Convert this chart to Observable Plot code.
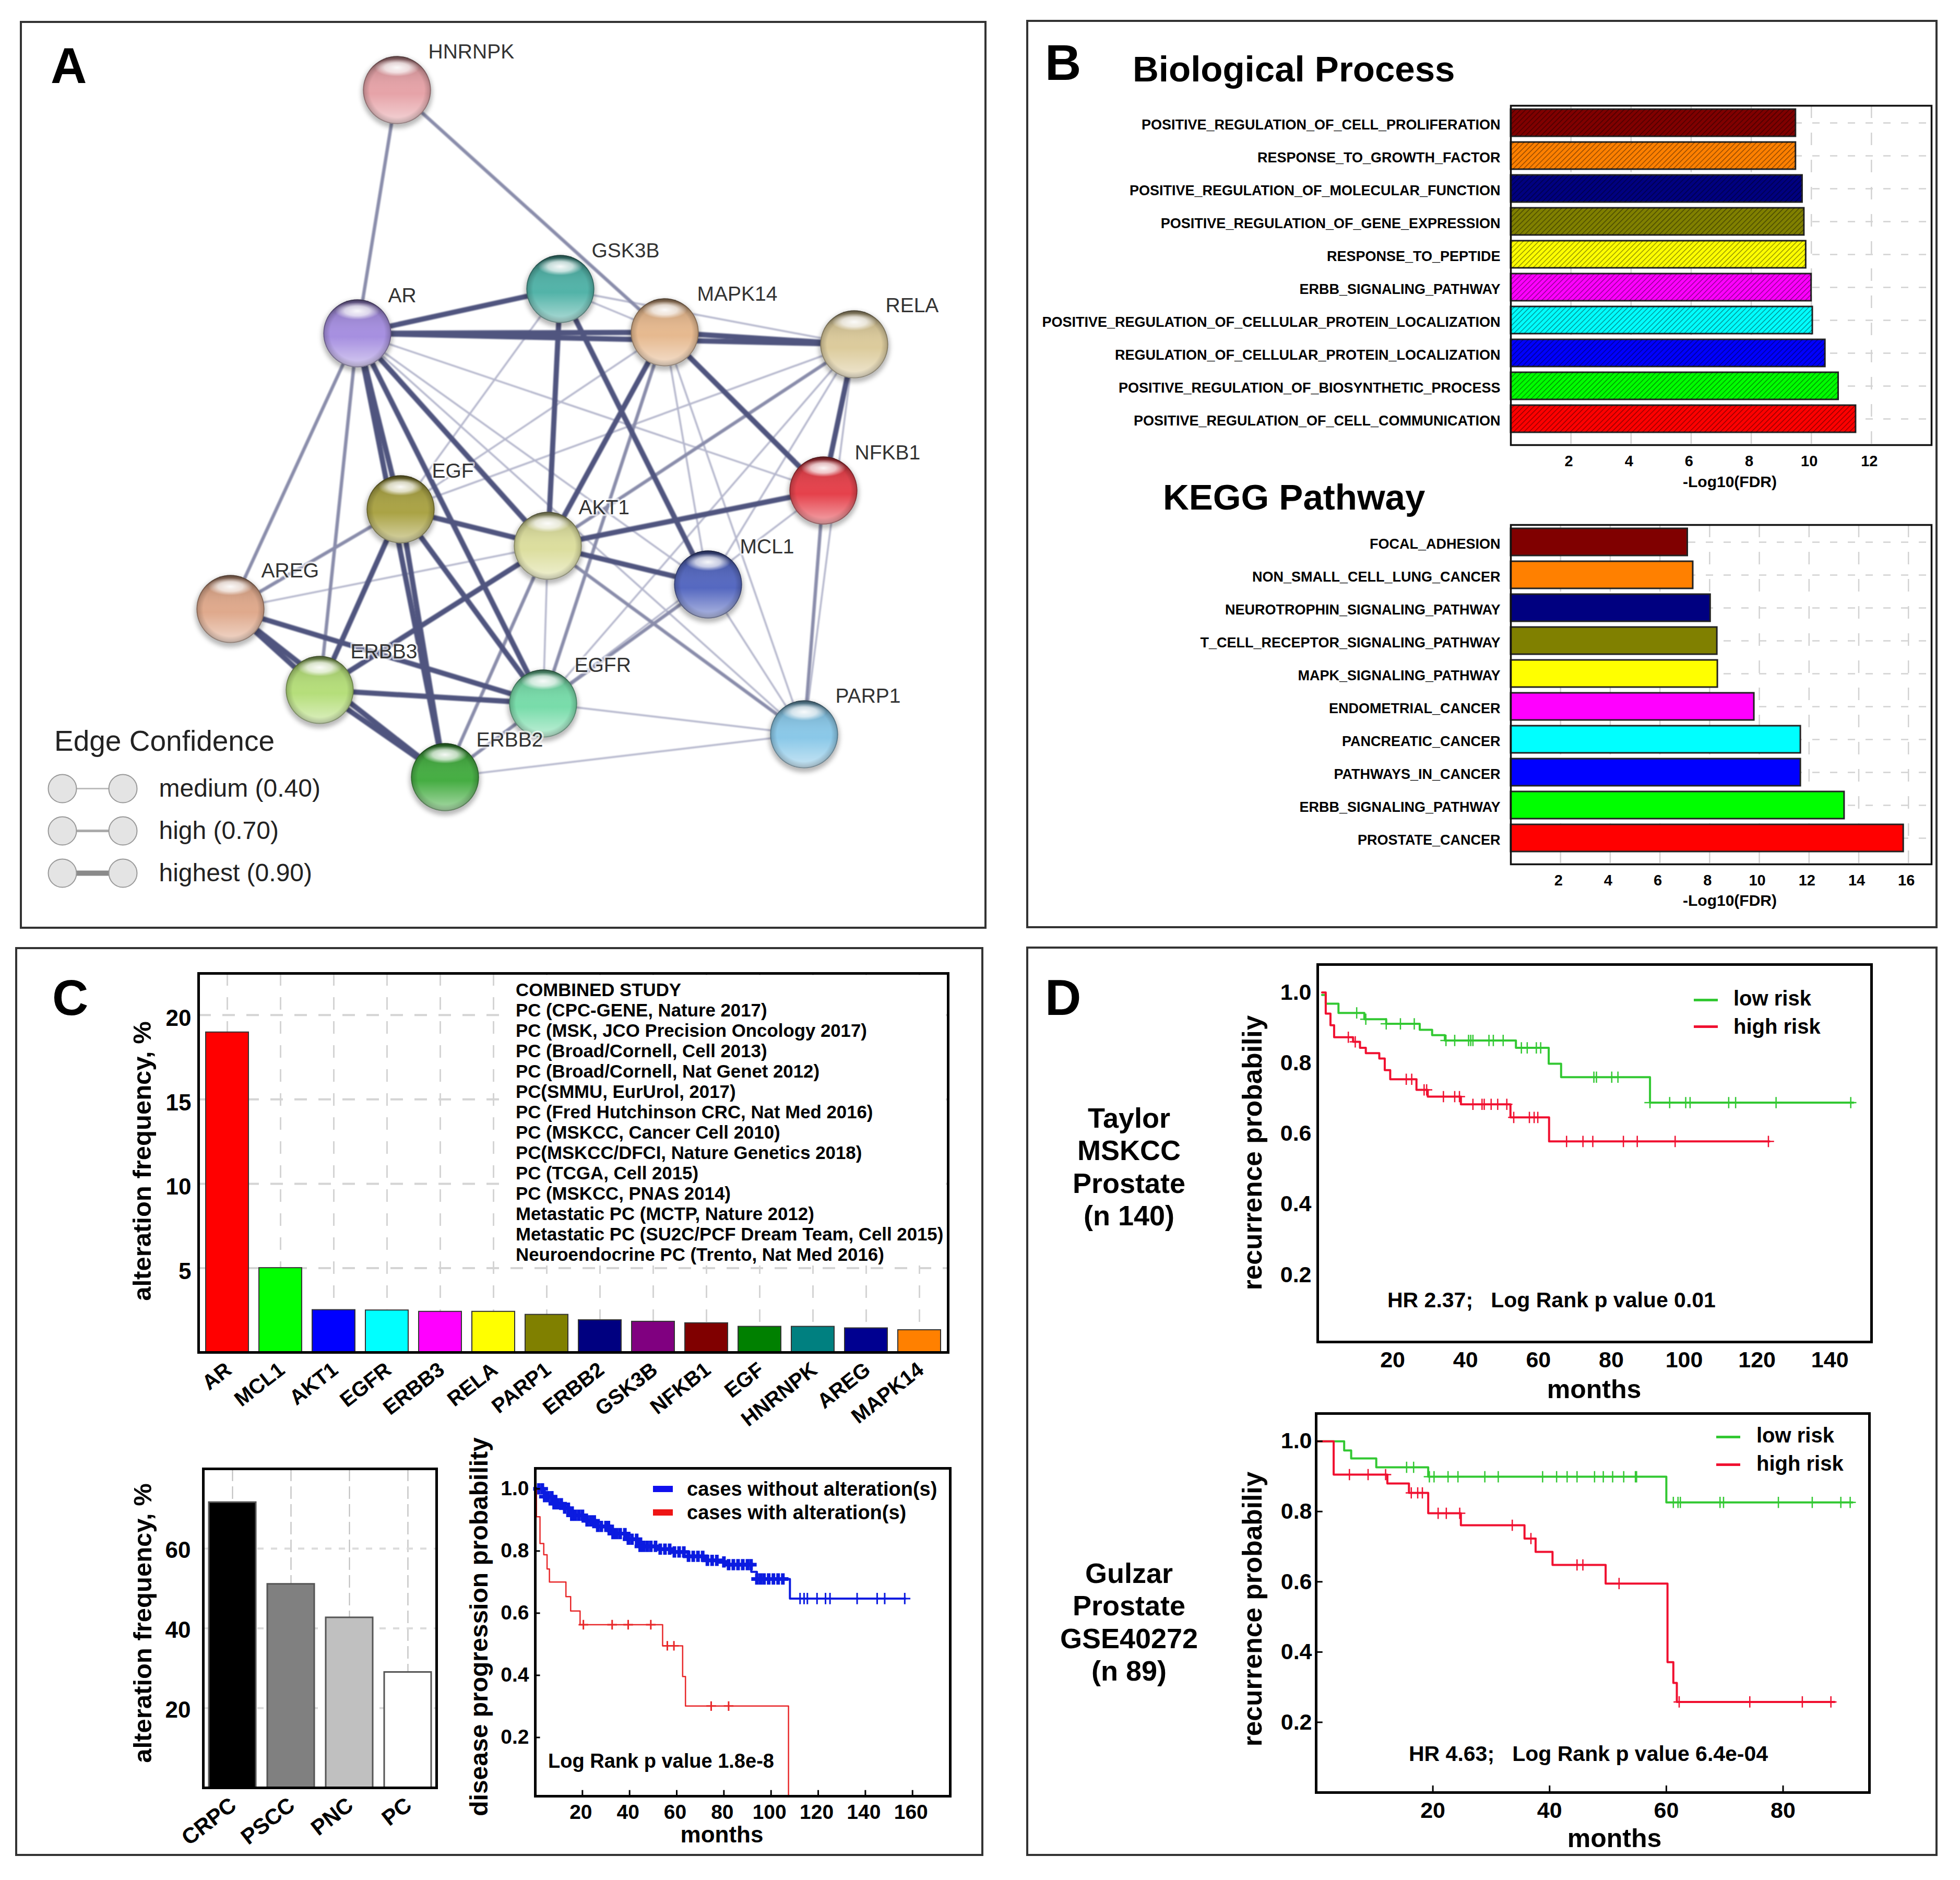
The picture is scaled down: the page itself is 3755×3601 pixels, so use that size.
<!DOCTYPE html>
<html>
<head>
<meta charset="utf-8">
<script src="https://cdn.jsdelivr.net/npm/d3@7"></script>
<script src="https://cdn.jsdelivr.net/npm/@observablehq/plot@0.6"></script>
<style>
  html, body { margin: 0; background: #fff; }
  #root { position: relative; width: 3755px; height: 3601px; overflow: hidden; background: #fff; font-family: "Liberation Sans", Arial, sans-serif; }
  .panel { position: absolute; box-sizing: border-box; border: 4px solid #333; }
  .lab { position: absolute; white-space: pre; color: #000; line-height: 1; z-index: 5; }
  .swatch { position: absolute; z-index: 5; }
  .mask { position: absolute; background: #fff; z-index: 4; }
</style>
</head>
<body>
<div id="root"></div>
<script>
// ---------- Panel A: network ----------
const nodeNames = ["HNRNPK","AR","GSK3B","MAPK14","RELA","NFKB1","EGF","AKT1","MCL1","AREG","ERBB3","EGFR","ERBB2","PARP1"];
const nodeX = [760,684,1073,1273,1636,1577,767,1049,1356,441,612,1040,852,1540];
const nodeY = [172,638,553,636,659,939,975,1045,1119,1166,1321,1347,1488,1406];
const nodeColors = ["#e6a3a8","#a68fe0","#52b3a8","#e6b98f","#dccb9c","#e5414b","#aaa345","#dcde9e","#5568c0","#dfa98c","#b5de7a","#78dcaa","#45ad42","#8ac8e8"];
const labelX = [820,743,1133,1335,1696,1637,827,1108,1417,500,671,1100,912,1600];
const labelY = [99,566,480,563,585,867,902,972,1047,1093,1248,1274,1417,1333];
const thickEdges = [["AR","GSK3B"],["AR","MAPK14"],["AR","RELA"],["MAPK14","RELA"],["AR","EGF"],["AR","AKT1"],["AR","ERBB2"],["AR","EGFR"],["GSK3B","AKT1"],["GSK3B","MCL1"],["MAPK14","AKT1"],["MAPK14","NFKB1"],["RELA","NFKB1"],["NFKB1","AKT1"],["EGF","AKT1"],["EGF","ERBB3"],["EGF","ERBB2"],["EGF","EGFR"],["AKT1","MCL1"],["AKT1","ERBB3"],["AREG","ERBB3"],["AREG","ERBB2"],["AREG","EGFR"],["ERBB3","EGFR"],["ERBB3","ERBB2"]];
const midEdges = [["HNRNPK","AR"],["HNRNPK","MAPK14"],["AR","AREG"],["AR","ERBB3"],["MAPK14","EGFR"],["RELA","AKT1"],["NFKB1","PARP1"],["EGF","AREG"],["AKT1","ERBB2"],["AKT1","PARP1"],["MCL1","EGFR"],["EGFR","ERBB2"]];
const thinEdges = [["AR","NFKB1"],["AR","MCL1"],["AR","PARP1"],["GSK3B","MAPK14"],["GSK3B","RELA"],["GSK3B","EGF"],["MAPK14","MCL1"],["MAPK14","PARP1"],["MAPK14","EGF"],["RELA","EGF"],["RELA","MCL1"],["RELA","EGFR"],["RELA","PARP1"],["AKT1","AREG"],["AKT1","EGFR"],["MCL1","PARP1"],["EGFR","PARP1"],["ERBB2","PARP1"],["NFKB1","EGFR"]];
const confidenceLevels = ["medium (0.40)","high (0.70)","highest (0.90)"];
const confidenceWidths = [3,5,10];
const confidenceColors = ["#bdbdbd","#ababab","#8a8a8a"];

// ---------- Panel B: enrichment ----------
const bpTerms = ["POSITIVE_REGULATION_OF_CELL_PROLIFERATION","RESPONSE_TO_GROWTH_FACTOR","POSITIVE_REGULATION_OF_MOLECULAR_FUNCTION","POSITIVE_REGULATION_OF_GENE_EXPRESSION","RESPONSE_TO_PEPTIDE","ERBB_SIGNALING_PATHWAY","POSITIVE_REGULATION_OF_CELLULAR_PROTEIN_LOCALIZATION","REGULATION_OF_CELLULAR_PROTEIN_LOCALIZATION","POSITIVE_REGULATION_OF_BIOSYNTHETIC_PROCESS","POSITIVE_REGULATION_OF_CELL_COMMUNICATION"];
const bpValues = [9.48,9.48,9.7,9.76,9.82,10.0,10.04,10.46,10.9,11.48];
const keggTerms = ["FOCAL_ADHESION","NON_SMALL_CELL_LUNG_CANCER","NEUROTROPHIN_SIGNALING_PATHWAY","T_CELL_RECEPTOR_SIGNALING_PATHWAY","MAPK_SIGNALING_PATHWAY","ENDOMETRIAL_CANCER","PANCREATIC_CANCER","PATHWAYS_IN_CANCER","ERBB_SIGNALING_PATHWAY","PROSTATE_CANCER"];
const keggValues = [7.11,7.33,8.03,8.3,8.32,9.79,11.66,11.66,13.42,15.8];
const barPalette = ["#800000","#ff8000","#000080","#808000","#ffff00","#ff00ff","#00ffff","#0000ff","#00ff00","#ff0000"];
const bpTicks = [2,4,6,8,10,12];
const keggTicks = [2,4,6,8,10,12,14,16];

// ---------- Panel C ----------
const geneNames = ["AR","MCL1","AKT1","EGFR","ERBB3","RELA","PARP1","ERBB2","GSK3B","NFKB1","EGF","HNRNPK","AREG","MAPK14"];
const geneFreq = [18.98,5.01,2.52,2.5,2.42,2.42,2.24,1.92,1.83,1.74,1.53,1.53,1.44,1.33];
const genePalette = ["#ff0000","#00ff00","#0000ff","#00ffff","#ff00ff","#ffff00","#808000","#000080","#800080","#800000","#008000","#008080","#000090","#ff8000"];
const geneTicks = [5,10,15,20];
const studies = ["COMBINED STUDY","PC (CPC-GENE, Nature 2017)","PC (MSK, JCO Precision Oncology 2017)","PC (Broad/Cornell, Cell 2013)","PC (Broad/Cornell, Nat Genet 2012)","PC(SMMU, EurUrol, 2017)","PC (Fred Hutchinson CRC, Nat Med 2016)","PC (MSKCC, Cancer Cell 2010)","PC(MSKCC/DFCI, Nature Genetics 2018)","PC (TCGA, Cell 2015)","PC (MSKCC, PNAS 2014)","Metastatic PC (MCTP, Nature 2012)","Metastatic PC (SU2C/PCF Dream Team, Cell 2015)","Neuroendocrine PC (Trento, Nat Med 2016)"];
const diseaseNames = ["CRPC","PSCC","PNC","PC"];
const diseaseFreq = [71.6,51.1,42.7,29];
const diseaseColors = ["#000000","#808080","#c0c0c0","#ffffff"];
const diseaseTicks = [20,40,60];

const cWithoutT = [0,4,8,11.4,15,21,26,32,39,44,51.5,57.6,65,72,78,80.7,91.6,94,108,157];
const cWithoutP = [1,.975,.952,.938,.915,.897,.879,.856,.838,.815,.806,.797,.783,.77,.765,.756,.733,.71,.647,.647];
const cWithoutCensorDense = [1.5,3,4,5.5,7,8,9.5,11,12.5,14,15.5,17,18.5,20,22,23.5,25,26.5,28,30,31,33,34.5,36,38,39.5,41,43,44.5,46,47.5,49,51,53,55,57,59,61,63,65,67,69,71,73,75,77,80,82,84,86,88,90,91.5,94,95.5,97,99,101,103,105];
const cWithoutCensorSparse = [112.3,114,115.4,119.5,123.1,125,136.5,145,148.2,156.7];
const cWithT = [0,.5,2,3.6,5,6,13,15,19,54,62.5,63.7,107.4];
const cWithP = [1,.91,.824,.788,.742,.7,.653,.607,.563,.495,.396,.301,.011];
const cWithCensor = [20.4,32.6,39.4,49,56,58.8,74.6,82];
const kmYTicks = [.2,.4,.6,.8,1];
const cKmXTicks = [20,40,60,80,100,120,140,160];

// ---------- Panel D ----------
const taylorLowT = [1.2,2.2,5.7,12.8,18.8,28,31.4,34.9,54.4,63.4,66.8,91.2,147];
const taylorLowP = [.993,.968,.942,.924,.911,.894,.879,.864,.843,.798,.76,.688,.688];
const taylorLowCensor = [10.7,13.2,18.8,22.7,26.5,35.2,37.6,41.4,42,42.6,47,48.2,50.9,55.9,57.5,60,61.2,75.8,76.5,80.7,82.4,91.2,96.6,101,102.2,112.8,114.7,125.8,146.3];
const taylorHighT = [1.2,2.2,3.5,4.5,9.7,11.6,13.2,16.9,18.4,19.9,27.1,30.2,39.3,52.9,63.5,124];
const taylorHighP = [1,.94,.907,.873,.86,.843,.828,.813,.78,.754,.724,.705,.683,.646,.578,.578];
const taylorHighCensor = [8.4,10.3,24.3,25.8,29.2,29.9,34.5,37.6,38.9,42.6,45.1,45.7,47.6,49.4,51.9,53.8,58.1,59.4,60.4,68.3,72.8,75.5,83.9,87.7,98.1,123.7];
const taylorXTicks = [20,40,60,80,100,120,140];

const gulzarLowT = [0,4.8,6,10.3,19.2,60,91.9];
const gulzarLowP = [1,.974,.951,.926,.899,.826,.826];
const gulzarLowCensor = [15.5,16.7,19.4,20.2,22.6,24.3,28.9,31.2,38.8,41.2,43,44.7,47.7,49.2,50.8,52.7,54.7,54.9,61.2,62,62.4,69.2,69.8,79.2,85,89.9,91.5];
const gulzarHighT = [0,3,12.2,15.9,19.2,24.8,35.7,37.6,40.5,49.6,60.2,61.2,61.8,88.8];
const gulzarHighP = [1,.905,.88,.853,.795,.761,.723,.685,.648,.595,.371,.312,.258,.258];
const gulzarHighCensor = [5.7,8.9,11.9,16.3,17.4,18.2,20.9,22.3,24.6,33.6,36.8,44.7,45.7,51.9,62.2,74.3,83.3,88.2];
const gulzarXTicks = [20,40,60,80];

// ---------- helpers ----------
const root = document.getElementById("root");
const FONT = '"Liberation Sans", Arial, sans-serif';

function panel(x1, y1, x2, y2) {
  const d = document.createElement("div");
  d.className = "panel";
  Object.assign(d.style, {left: x1 + "px", top: y1 + "px", width: (x2 - x1) + "px", height: (y2 - y1) + "px"});
  root.append(d);
}
function label(text, x, y, size, {weight = "bold", anchor = "start", rotate = 0, color = "#000"} = {}) {
  const d = document.createElement("div");
  d.className = "lab";
  d.textContent = text;
  const tx = anchor === "middle" ? "-50%" : "0";
  Object.assign(d.style, {left: x + "px", top: y + "px", fontSize: size + "px", fontWeight: weight, color,
    transform: `translate(${tx},-50%)` + (rotate ? ` rotate(${rotate}deg)` : "")});
  if (rotate) { d.style.transformOrigin = anchor === "middle" ? "50% 50%" : "0 50%"; }
  root.append(d);
}
function swatch(x, y, w, h, color) {
  const d = document.createElement("div");
  d.className = "swatch";
  Object.assign(d.style, {left: x + "px", top: (y - h / 2) + "px", width: w + "px", height: h + "px", background: color});
  root.append(d);
}
function chart(box, m, opts) {
  const [x1, y1, x2, y2] = box;
  const svg = Plot.plot({
    width: x2 - x1 + m.l + m.r,
    height: y2 - y1 + m.t + m.b,
    marginLeft: m.l, marginRight: m.r, marginTop: m.t, marginBottom: m.b,
    style: {background: "transparent", fontFamily: FONT, overflow: "visible"},
    ...opts
  });
  Object.assign(svg.style, {position: "absolute", left: (x1 - m.l) + "px", top: (y1 - m.t) + "px", maxWidth: "none"});
  root.append(svg);
  return svg;
}
function defsMark(markup) {
  return () => {
    const g = document.createElementNS("http://www.w3.org/2000/svg", "g");
    g.innerHTML = `<defs>${markup}</defs>`;
    return g;
  };
}
function stepAt(times, probs, t) {
  return probs[Math.max(0, d3.bisectRight(times, t) - 1)];
}
function kmLine(times, probs, color, lineWidth) {
  const rows = times.map((t, i) => ({t, p: probs[i]}));
  return Plot.line(rows, {x: "t", y: "p", curve: "step-after", stroke: color, strokeWidth: lineWidth});
}
function kmCensor(times, probs, censor, color, markR, markWidth) {
  return Plot.dot(censor, {x: d => d, y: d => stepAt(times, probs, d), symbol: "plus", r: markR, stroke: color, strokeWidth: markWidth});
}

// ---------- Panel frames ----------
panel(38, 40, 1890, 1779);
panel(1966, 38, 3712, 1778);
panel(29, 1814, 1884, 3555);
panel(1966, 1813, 3712, 3555);

label("A", 97, 126, 96);
label("B", 2002, 120, 96);
label("C", 100, 1911, 96);
label("D", 2002, 1911, 96);

// ---------- A: network ----------
const nodeIndex = new Map(nodeNames.map((n, i) => [n, i]));
const edgeRows = list => list.map(([a, b]) => ({
  x1: nodeX[nodeIndex.get(a)], y1: nodeY[nodeIndex.get(a)],
  x2: nodeX[nodeIndex.get(b)], y2: nodeY[nodeIndex.get(b)]
}));
const nodes = nodeNames.map((name, i) => ({name, x: nodeX[i], y: nodeY[i], lx: labelX[i], ly: labelY[i]}));
const sphereDefs = `
  <linearGradient id="sphereShade" x1="0" y1="0" x2="0" y2="1">
    <stop offset="0" stop-color="#000" stop-opacity=".45"/>
    <stop offset=".22" stop-color="#000" stop-opacity=".1"/>
    <stop offset=".55" stop-color="#fff" stop-opacity="0"/>
    <stop offset="1" stop-color="#fff" stop-opacity=".55"/>
  </linearGradient>
  <radialGradient id="sphereRim" cx=".5" cy=".5" r=".5">
    <stop offset=".8" stop-color="#000" stop-opacity="0"/>
    <stop offset=".96" stop-color="#000" stop-opacity=".18"/>
    <stop offset="1" stop-color="#000" stop-opacity=".5"/>
  </radialGradient>
  <radialGradient id="sphereGloss" gradientUnits="objectBoundingBox" cx="0" cy="0" r="1" gradientTransform="translate(.5,.17) scale(.33,.13)">
    <stop offset="0" stop-color="#fff" stop-opacity=".95"/>
    <stop offset=".55" stop-color="#fff" stop-opacity=".7"/>
    <stop offset="1" stop-color="#fff" stop-opacity="0"/>
  </radialGradient>`;
const SOFT = "blur(1.2px)";
chart([38, 40, 1890, 1776], {l: 0, r: 0, t: 0, b: 0}, {
  x: {domain: [38, 1890], axis: null},
  y: {domain: [40, 1776], range: [0, 1736], axis: null},
  color: {type: "ordinal", domain: nodeNames, range: nodeColors},
  marks: [
    defsMark(sphereDefs),
    Plot.link(edgeRows(thinEdges), {x1: "x1", y1: "y1", x2: "x2", y2: "y2", stroke: "#b4b6cc", strokeWidth: 3.5, imageFilter: SOFT}),
    Plot.link(edgeRows(midEdges), {x1: "x1", y1: "y1", x2: "x2", y2: "y2", stroke: "#8a8dab", strokeWidth: 6.5, imageFilter: SOFT}),
    Plot.link(edgeRows(thickEdges), {x1: "x1", y1: "y1", x2: "x2", y2: "y2", stroke: "#50557f", strokeWidth: 10, imageFilter: SOFT}),
    Plot.dot(nodes, {x: "x", y: d => d.y + 5, r: 68, fill: "#000", fillOpacity: .28, imageFilter: "blur(4px)"}),
    Plot.dot(nodes, {x: "x", y: "y", r: 65, fill: "name"}),
    Plot.dot(nodes, {x: "x", y: "y", r: 65, fill: "url(#sphereShade)"}),
    Plot.dot(nodes, {x: "x", y: "y", r: 65, fill: "url(#sphereRim)"}),
    Plot.dot(nodes, {x: "x", y: "y", r: 65, fill: "url(#sphereGloss)"}),
    Plot.text(nodes, {x: "lx", y: "ly", text: "name", textAnchor: "start", fontSize: 39, fill: "#333", stroke: "#fff", strokeOpacity: .65, strokeWidth: 7})
  ]
});
label("Edge Confidence", 104, 1419, 55, {weight: "normal", color: "#222"});
chart([119, 1509, 235, 1672], {l: 30, r: 420, t: 30, b: 30}, {
  x: {domain: [0, 1], axis: null},
  y: {type: "point", domain: confidenceLevels, padding: 0, axis: null},
  marks: [
    Plot.ruleY(confidenceLevels, {y: d => d, x1: 0, x2: 1, strokeWidth: (d, i) => confidenceWidths[i], stroke: (d, i) => confidenceColors[i]}),
    Plot.dot(confidenceLevels, {x: 0, y: d => d, r: 27, fill: "#e4e4e4", stroke: "#999", strokeWidth: 2}),
    Plot.dot(confidenceLevels, {x: 1, y: d => d, r: 27, fill: "#e4e4e4", stroke: "#999", strokeWidth: 2}),
    Plot.text(confidenceLevels, {x: 1, y: d => d, text: d => d, dx: 69, textAnchor: "start", fontSize: 48, fill: "#222"})
  ]
});

// ---------- B: enrichment bars ----------
function enrichment(box, terms, values, ticks, xMax, hatched) {
  const rows = terms.map((term, i) => ({term, value: values[i]}));
  chart(box, {l: 928, r: 8, t: 6, b: 100}, {
    x: {domain: [0, xMax], axis: null},
    y: {type: "band", domain: terms, padding: .18, align: .23, axis: null},
    color: {type: "ordinal", domain: terms, range: barPalette},
    marks: [
      defsMark(`<pattern id="hatch" patternUnits="userSpaceOnUse" width="7" height="7" patternTransform="rotate(45)"><line x1="0" y1="0" x2="0" y2="7" stroke="#000" stroke-opacity=".5" stroke-width="2.5"/></pattern>`),
      Plot.ruleX(ticks, {stroke: "#d2d2d2", strokeWidth: 2.5, strokeDasharray: "24 28"}),
      Plot.ruleY(terms, {y: d => d, stroke: "#d2d2d2", strokeWidth: 2.5, strokeDasharray: "14 20"}),
      Plot.barX(rows, {x: "value", y: "term", fill: "term", stroke: "#222", strokeWidth: 3}),
      hatched ? Plot.barX(rows, {x: "value", y: "term", fill: "url(#hatch)"}) : null,
      Plot.frame({stroke: "#111", strokeWidth: 3.5}),
      Plot.axisY({tickSize: 0, tickPadding: 20, dy: 4, fontSize: 27, fontWeight: "bold", fill: "#000", label: null}),
      Plot.axisX({ticks, tickSize: 0, tickPadding: 20, dx: -4, fontSize: 29, fontWeight: "bold", fill: "#000", label: null})
    ]
  });
}
label("Biological Process", 2170, 132, 69);
enrichment([2894, 202, 3700, 852], bpTerms, bpValues, bpTicks, 14, true);
label("-Log10(FDR)", 3314, 923, 30, {anchor: "middle"});
label("KEGG Pathway", 2228, 952, 69);
enrichment([2894, 1005, 3700, 1655], keggTerms, keggValues, keggTicks, 16.93, false);
label("-Log10(FDR)", 3314, 1725, 30, {anchor: "middle"});

// ---------- C: gene frequencies ----------
const geneRows = geneNames.map((gene, i) => ({gene, freq: geneFreq[i]}));
chart([380, 1864, 1816, 2590], {l: 100, r: 10, t: 6, b: 170}, {
  x: {type: "band", domain: geneNames, paddingInner: .2, paddingOuter: .125, axis: null},
  y: {domain: [0, 22.47], axis: null},
  color: {type: "ordinal", domain: geneNames, range: genePalette},
  marks: [
    Plot.ruleX(geneNames, {x: d => d, stroke: "#d4d4d4", strokeWidth: 3, strokeDasharray: "24 22"}),
    Plot.ruleY(geneTicks, {stroke: "#d4d4d4", strokeWidth: 4, strokeDasharray: "24 22"}),
    Plot.barY(geneRows, {x: "gene", y: "freq", fill: "gene", stroke: "#333", strokeWidth: 2}),
    Plot.frame({stroke: "#000", strokeWidth: 5}),
    Plot.axisY({ticks: geneTicks, tickSize: 0, tickPadding: 14, fontSize: 44, fontWeight: "bold", fill: "#000", dy: 7, label: null}),
    Plot.axisX({tickRotate: -38, tickSize: 0, tickPadding: 28, dx: 3, fontSize: 40, fontWeight: "bold", fill: "#000", label: null})
  ]
});
label("alteration frequency, %", 272, 2224, 49, {anchor: "middle", rotate: -90});
// study list sits on a white block that interrupts the grid, as in the figure
const mask = document.createElement("div");
mask.className = "mask";
Object.assign(mask.style, {left: "961px", top: "1868px", width: "851px", height: "556px"});
root.append(mask);
studies.forEach((s, i) => label(s, 988, 1896 + i * (507 / 13), 34.8));

// ---------- C: disease frequencies ----------
const diseaseRows = diseaseNames.map((name, i) => ({name, freq: diseaseFreq[i]}));
chart([389, 2813, 836, 3424], {l: 100, r: 10, t: 6, b: 130}, {
  x: {type: "band", domain: diseaseNames, paddingInner: .2, paddingOuter: .09, axis: null},
  y: {domain: [0, 80], axis: null},
  color: {type: "ordinal", domain: diseaseNames, range: diseaseColors},
  marks: [
    Plot.ruleX(diseaseNames, {x: d => d, stroke: "#bbb", strokeWidth: 2, strokeDasharray: "24 10"}),
    Plot.ruleY(diseaseTicks, {stroke: "#dcdcdc", strokeWidth: 4, strokeDasharray: "12 14"}),
    Plot.barY(diseaseRows, {x: "name", y: "freq", fill: "name", stroke: "#555", strokeWidth: 3}),
    Plot.frame({stroke: "#000", strokeWidth: 5}),
    Plot.axisY({ticks: diseaseTicks, tickSize: 0, tickPadding: 24, fontSize: 44, fontWeight: "bold", fill: "#000", dy: 4, label: null}),
    Plot.axisX({tickRotate: -38, tickSize: 0, tickPadding: 28, dx: 2, fontSize: 42, fontWeight: "bold", fill: "#000", label: null})
  ]
});
label("alteration frequency, %", 273, 3109, 49, {anchor: "middle", rotate: -90});

// ---------- KM charts ----------
function kmChart(box, xMax, yDomain, xTicks, tickRule, curves, fontSize, padY, padX, tickDx) {
  const yLow = yDomain[0];
  chart(box, {l: 100, r: 8, t: 6, b: 70}, {
    x: {domain: [0, xMax], axis: null},
    y: {domain: yDomain, axis: null},
    marks: [
      ...curves,
      tickRule ? Plot.ruleX(xTicks, {y1: yLow, y2: yLow + (yDomain[1] - yLow) * .018, stroke: "#000", strokeWidth: 3}) : null,
      tickRule ? Plot.ruleY(kmYTicks, {x1: 0, x2: xMax * .012, stroke: "#000", strokeWidth: 3}) : null,
      Plot.frame({stroke: "#000", strokeWidth: 5}),
      Plot.axisY({ticks: kmYTicks, tickFormat: ".1f", tickSize: 0, tickPadding: padY, fontSize, fontWeight: "bold", fill: "#000", label: null}),
      Plot.axisX({ticks: xTicks, tickFormat: "d", tickSize: 0, tickPadding: padX, dx: tickDx, fontSize, fontWeight: "bold", fill: "#000", label: null})
    ]
  });
}
const BLUE = "#0b1be0", RED_C = "#e8282a", GREEN = "#32c832", RED = "#f01030";

kmChart([1025, 2812, 1820, 3440], 176, [.011, 1.066], cKmXTicks, true, [
  kmLine(cWithoutT, cWithoutP, BLUE, 4),
  kmCensor(cWithoutT, cWithoutP, cWithoutCensorDense, BLUE, 7, 7),
  kmCensor(cWithoutT, cWithoutP, cWithoutCensorSparse, BLUE, 7, 3),
  kmLine(cWithT, cWithP, RED_C, 2.5),
  kmCensor(cWithT, cWithP, cWithCensor, RED_C, 6, 3)
], 39, 12, 16, -3);
label("disease progression probability", 918, 3116, 48, {anchor: "middle", rotate: -90});
label("months", 1383, 3514, 44, {anchor: "middle"});
swatch(1251, 2852, 38, 12, "#1010ee");
swatch(1251, 2897, 38, 12, "#ee1515");
label("cases without alteration(s)", 1316, 2852, 38);
label("cases with alteration(s)", 1316, 2897, 38);
label("Log Rank p value 1.8e-8", 1050, 3373, 38);

kmChart([2524, 1847, 3585, 2570], 152, [.01, 1.079], taylorXTicks, false, [
  kmLine(taylorLowT, taylorLowP, GREEN, 4),
  kmCensor(taylorLowT, taylorLowP, taylorLowCensor, GREEN, 7, 2.5),
  kmLine(taylorHighT, taylorHighP, RED, 4),
  kmCensor(taylorHighT, taylorHighP, taylorHighCensor, RED, 7, 2.5)
], 43, 12, 18, 4);
label("recurrence probabiliy", 2400, 2208, 51.5, {anchor: "middle", rotate: -90});
label("months", 3054, 2661, 50, {anchor: "middle"});
swatch(3245, 1915, 46, 5, GREEN);
swatch(3245, 1966, 46, 5, RED);
label("low risk", 3321, 1912, 40);
label("high risk", 3321, 1966, 40);
label("HR 2.37;   Log Rank p value 0.01", 2658, 2490, 41);

kmChart([2521, 2707, 3581, 3433], 94.8, [0, 1.079], gulzarXTicks, true, [
  kmLine(gulzarLowT, gulzarLowP, GREEN, 4),
  kmCensor(gulzarLowT, gulzarLowP, gulzarLowCensor, GREEN, 7, 2.5),
  kmLine(gulzarHighT, gulzarHighP, RED, 4),
  kmCensor(gulzarHighT, gulzarHighP, gulzarHighCensor, RED, 7, 2.5)
], 43, 8, 18, 0);
label("recurrence probabiliy", 2400, 3082, 51.5, {anchor: "middle", rotate: -90});
label("months", 3093, 3521, 50, {anchor: "middle"});
swatch(3288, 2752, 46, 5, GREEN);
swatch(3288, 2805, 46, 5, RED);
label("low risk", 3365, 2749, 40);
label("high risk", 3365, 2803, 40);
label("HR 4.63;   Log Rank p value 6.4e-04", 2699, 3359, 41);

// ---------- D: cohort captions ----------
["Taylor", "MSKCC", "Prostate", "(n 140)"].forEach((s, i) => label(s, 2163, 2141 + i * 62.3, 54, {anchor: "middle"}));
["Gulzar", "Prostate", "GSE40272", "(n 89)"].forEach((s, i) => label(s, 2163, 3013 + i * 62.3, 54, {anchor: "middle"}));
</script>
</body>
</html>
